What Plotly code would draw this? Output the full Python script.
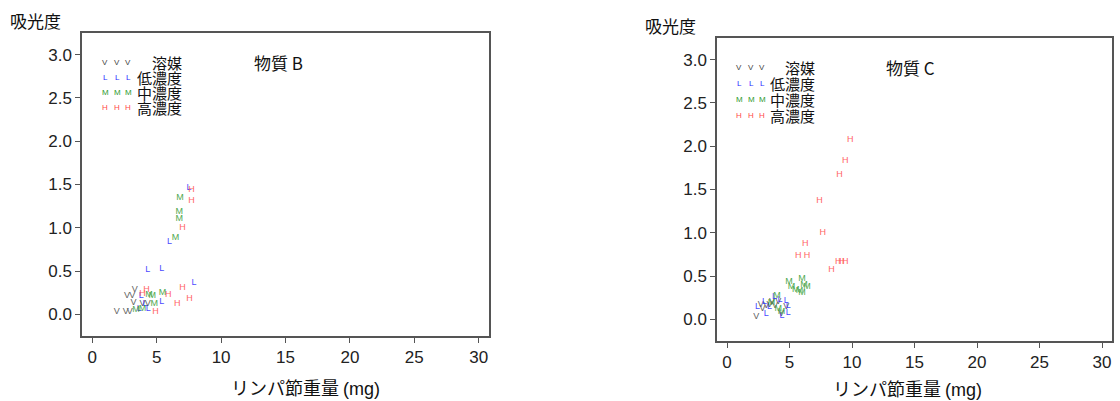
import plotly.graph_objects as go

W, H = 1120, 401

# ---- data: panel B (left) ----
B_V_x = [1.9, 2.6, 2.9, 2.7, 3.1, 3.3, 3.2, 3.9, 4.3]
B_V_y = [0.03, 0.03, 0.03, 0.21, 0.21, 0.28, 0.13, 0.12, 0.12]
B_L_x = [7.5, 6.0, 4.3, 5.4, 7.9, 3.8, 5.4, 4.35, 4.1, 3.65]
B_L_y = [1.46, 0.84, 0.52, 0.53, 0.36, 0.22, 0.14, 0.07, 0.12, 0.06]
B_M_x = [6.8, 6.75, 6.75, 6.45, 4.4, 4.65, 5.45, 3.4, 3.9, 4.8]
B_M_y = [1.35, 1.18, 1.10, 0.88, 0.23, 0.22, 0.25, 0.05, 0.07, 0.12]
B_H_x = [7.7, 7.7, 7.0, 7.0, 7.55, 6.6, 5.9, 3.9, 4.2, 4.9]
B_H_y = [1.44, 1.31, 1.00, 0.31, 0.18, 0.12, 0.23, 0.24, 0.28, 0.03]

# ---- data: panel C (right) ----
C_V_x = [2.35, 2.7, 2.85, 3.15, 3.4, 3.85, 4.35, 4.75, 3.6, 4.1]
C_V_y = [0.03, 0.17, 0.12, 0.16, 0.17, 0.16, 0.06, 0.15, 0.20, 0.20]
C_L_x = [2.45, 3.15, 3.8, 4.25, 4.75, 4.9, 3.0, 4.9, 4.4, 3.4]
C_L_y = [0.15, 0.06, 0.26, 0.23, 0.22, 0.16, 0.20, 0.08, 0.04, 0.14]
C_M_x = [4.95, 5.15, 5.5, 6.0, 6.0, 6.15, 6.4, 5.8, 3.55, 4.0, 4.1, 4.35]
C_M_y = [0.44, 0.38, 0.34, 0.31, 0.47, 0.40, 0.38, 0.33, 0.19, 0.27, 0.12, 0.09]
C_H_x = [9.85, 9.45, 9.0, 7.4, 7.65, 6.25, 5.7, 6.4, 8.9, 9.15, 9.45, 8.35]
C_H_y = [2.08, 1.83, 1.67, 1.37, 1.00, 0.87, 0.74, 0.74, 0.67, 0.67, 0.66, 0.57]

groups = ["V", "L", "M", "H"]
labels = ["溶媒", "低濃度", "中濃度", "高濃度"]
colors = ["#444444", "#2b2bff", "#2f9a2f", "#ff4a4a"]

x_ticks = [0, 5, 10, 15, 20, 25, 30]
y_ticks = [0.0, 0.5, 1.0, 1.5, 2.0, 2.5, 3.0]

panels = [
    dict(name="物質 B", xs=[B_V_x, B_L_x, B_M_x, B_H_x], ys=[B_V_y, B_L_y, B_M_y, B_H_y],
         box=(82, 33, 489, 336), title_px=(278, 62), ylab_px=(8, 20),
         leg_sym_x=(105, 117, 128), leg_text_x=184, leg_y0=62, leg_dy=15.3,
         xlab_px=(306, 387)),
    dict(name="物質 C", xs=[C_V_x, C_L_x, C_M_x, C_H_x], ys=[C_V_y, C_L_y, C_M_y, C_H_y],
         box=(717, 38, 1112, 341), title_px=(910, 67), ylab_px=(643, 25),
         leg_sym_x=(739, 751, 762), leg_text_x=817, leg_y0=67, leg_dy=16,
         xlab_px=(907, 388)),
]

fig = go.Figure()
font_main = "Liberation Sans, Arial, Noto Sans CJK JP, sans-serif"
font_jp = "Noto Sans CJK JP, sans-serif"
annotations = []


def ann(px, py, text, size, color="#111", family=font_jp, xanchor="center"):
    return dict(x=px / W, y=1 - py / H, xref="paper", yref="paper", text=text,
                showarrow=False, xanchor=xanchor, yanchor="middle",
                font=dict(size=size, color=color, family=family))


for i, p in enumerate(panels):
    sfx = "" if i == 0 else "2"
    xa, ya = "x" + sfx, "y" + sfx
    l, t, r, b = p["box"]
    for g, xs, ys, c in zip(groups, p["xs"], p["ys"], colors):
        fig.add_trace(go.Scatter(x=xs, y=ys, mode="text", text=[g] * len(xs),
                                 textfont=dict(size=9, color=c, family=font_main),
                                 opacity=0.85, showlegend=False, xaxis=xa, yaxis=ya,
                                 hoverinfo="skip"))
    ax = dict(range=[-0.8, 30.8], tickvals=x_ticks, ticks="outside", ticklen=5,
              tickcolor="#555", showline=True, linecolor="#555", linewidth=1.5,
              mirror=True, showgrid=False, zeroline=False,
              tickfont=dict(size=17, color="#222", family=font_main),
              domain=[l / W, r / W], anchor=ya)
    ay = dict(range=[-0.25, 3.25], tickvals=y_ticks, ticktext=[f"{v:.1f}" for v in y_ticks],
              ticks="outside", ticklen=5, tickcolor="#555", showline=True, linecolor="#555",
              linewidth=1.5, mirror=True, showgrid=False, zeroline=False,
              tickfont=dict(size=17, color="#222", family=font_main),
              domain=[1 - b / H, 1 - t / H], anchor=xa)
    fig.update_layout(**{"xaxis" + sfx: ax, "yaxis" + sfx: ay})

    annotations.append(ann(*p["title_px"], p["name"], 17))
    annotations.append(ann(*p["ylab_px"], "吸光度", 17, xanchor="left"))
    annotations.append(ann(*p["xlab_px"],
                           "リンパ節重量 <span style='font-family:Liberation Sans'>(mg)</span>",
                           18))
    for k, (g, lab, c) in enumerate(zip(groups, labels, colors)):
        yy = p["leg_y0"] + k * p["leg_dy"]
        for sx in p["leg_sym_x"]:
            annotations.append(ann(sx, yy, g, 8, color=c, family=font_main))
        annotations.append(ann(p["leg_text_x"], yy, lab, 15, xanchor="right"))

fig.update_layout(width=W, height=H, margin=dict(l=0, r=0, t=0, b=0),
                  plot_bgcolor="white", paper_bgcolor="white", annotations=annotations)
fig.write_html("out.html", config={"displayModeBar": False},
               post_script="document.body.style.margin='0';document.body.style.overflow='hidden';")
